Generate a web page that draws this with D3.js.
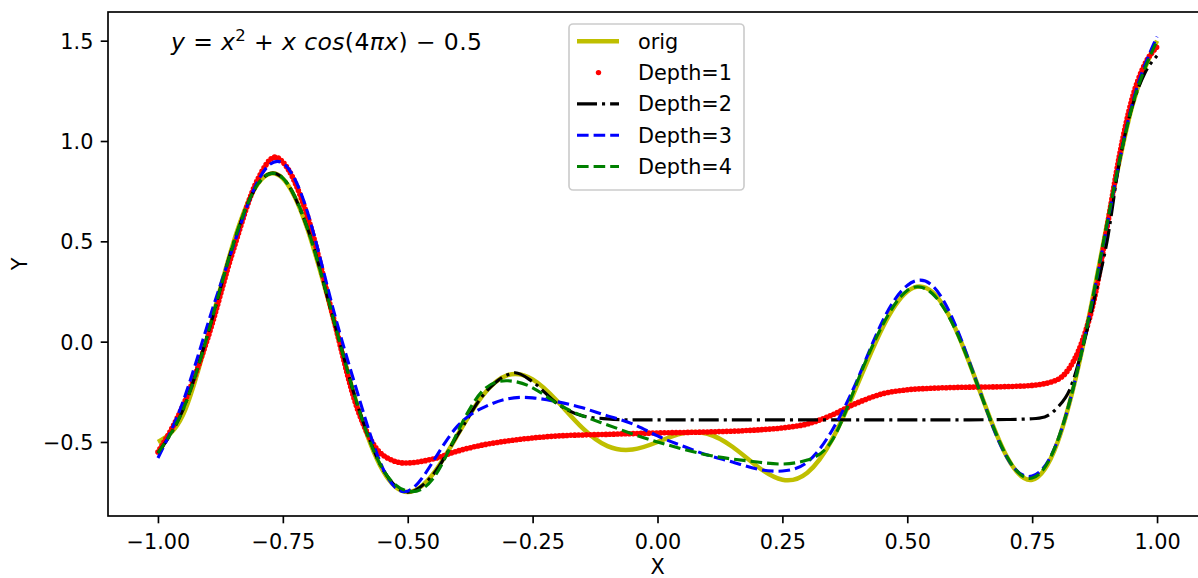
<!DOCTYPE html>
<html>
<head>
<meta charset="utf-8">
<script src="https://cdn.jsdelivr.net/npm/d3@7"></script>
<style>
  html, body { margin: 0; padding: 0; background: #fff; }
  svg { display: block; font-family: 'DejaVu Sans', sans-serif; }
  .legend-text, .title-text { white-space: pre; }
</style>
</head>
<body>
<div id="chart"></div>
<script>
// ── Data ────────────────────────────────────────────────────────
const X_GRID = [
  -1.00, -0.95, -0.90, -0.85, -0.80, -0.75, -0.70, -0.65, -0.60, -0.55,
  -0.50, -0.45, -0.40, -0.35, -0.30, -0.25, -0.20, -0.15, -0.10, -0.05,
   0.00,  0.05,  0.10,  0.15,  0.20,  0.25,  0.30,  0.35,  0.40,  0.45,
   0.50,  0.55,  0.60,  0.65,  0.70,  0.75,  0.80,  0.85,  0.90,  0.95, 1.00
];

const ORIG_Y = [
  -0.500, -0.366,  0.032,  0.485,  0.787,  0.813,  0.556,  0.123, -0.325, -0.642,
  -0.750, -0.662, -0.464, -0.269, -0.167, -0.188, -0.298, -0.431, -0.521, -0.538,
  -0.500, -0.457, -0.459, -0.524, -0.622, -0.688, -0.653, -0.486, -0.216,  0.067,
   0.250,  0.248,  0.045, -0.278, -0.576, -0.688, -0.507, -0.040,  0.588,  1.171, 1.500
];

const DEPTH3_Y = [
  -0.58, -0.30,  0.09,  0.47,  0.80,  0.89,  0.64,  0.17, -0.26, -0.63,
  -0.745, -0.60, -0.42, -0.33, -0.285, -0.28, -0.30, -0.33, -0.37, -0.41,
  -0.47, -0.52, -0.565, -0.60, -0.635, -0.645, -0.60, -0.44, -0.19,  0.10,
   0.28,  0.28,  0.06, -0.28, -0.58, -0.67, -0.50, -0.04,  0.58,  1.18, 1.52
];

const DEPTH4_Y = [
  -0.555, -0.34,  0.04,  0.48,  0.785,  0.815,  0.56,  0.125, -0.32, -0.635,
  -0.745, -0.685, -0.45, -0.245, -0.195, -0.23, -0.31, -0.37, -0.415, -0.46,
  -0.50, -0.535, -0.565, -0.585, -0.60, -0.61, -0.59, -0.49, -0.20,  0.08,
   0.255,  0.24,  0.04, -0.28, -0.575, -0.68, -0.50, -0.04,  0.59,  1.17, 1.50
];

const DEPTH1_X = [
  -1.00, -0.95, -0.90, -0.85, -0.80, -0.765, -0.75, -0.70, -0.65, -0.60,
  -0.55, -0.505, -0.45, -0.40, -0.35, -0.30, -0.25, -0.20, -0.10, 0.00,
   0.10,  0.20,  0.25,  0.30,  0.35,  0.40,  0.45,  0.50,  0.55,  0.60,
   0.70,  0.75,  0.80,  0.825, 0.85,  0.875, 0.90,  0.925, 0.95,  0.975, 1.00
];
const DEPTH1_Y = [
  -0.55, -0.32,  0.02,  0.45,  0.81,  0.92,  0.895, 0.62,  0.13, -0.34,
  -0.565, -0.605, -0.585, -0.545, -0.515, -0.495, -0.48, -0.47, -0.462, -0.455,
  -0.45, -0.44, -0.43, -0.41, -0.365, -0.305, -0.26, -0.24, -0.232, -0.228,
  -0.224, -0.218, -0.19, -0.13,  0.00,  0.22,  0.57,  0.93,  1.21,  1.38, 1.47
];

const DEPTH2_X = [
  -1.00, -0.95, -0.90, -0.85, -0.80, -0.77, -0.75, -0.70, -0.65, -0.60,
  -0.55, -0.50, -0.45, -0.40, -0.35, -0.30, -0.285, -0.25, -0.20, -0.15,
  -0.10, -0.05,  0.00,  0.20,  0.40,  0.60,  0.70,  0.75,  0.775, 0.80,
   0.825, 0.85,  0.875, 0.90,  0.925, 0.95,  0.975, 1.00
];
const DEPTH2_Y = [
  -0.555, -0.34,  0.04,  0.48,  0.785,  0.84,  0.815,  0.56,  0.125, -0.32,
  -0.635, -0.75, -0.665, -0.465, -0.27, -0.165, -0.155, -0.20, -0.31, -0.37,
  -0.385, -0.39, -0.39, -0.39, -0.39, -0.39, -0.388, -0.384, -0.375, -0.33,
  -0.24, -0.04,  0.22,  0.50,  0.90,  1.17,  1.335, 1.425
];

const X_TICKS = [-1.00, -0.75, -0.50, -0.25, 0.00, 0.25, 0.50, 0.75, 1.00];
const Y_TICKS = [-0.5, 0.0, 0.5, 1.0, 1.5];

const SERIES_LABELS = ['orig', 'Depth=1', 'Depth=2', 'Depth=3', 'Depth=4'];

// ── Layout ──────────────────────────────────────────────────────
const W = 1198, H = 578;
const AX = { left: 108, right: 1207, top: 12, bottom: 516 };
const FS = 20.8;        // 10pt @ 150dpi
const LW = 3.125;       // 1.5pt

const STYLES = {
  'orig':    { color: '#bfbf00', width: 4.5 },
  'Depth=1': { color: '#ff0000', width: 5.6, dash: '0 3.9', cap: 'round' },
  'Depth=2': { color: '#000000', width: LW, dash: '20 5 3.1 5' },
  'Depth=3': { color: '#0000ff', width: LW, dash: '11.6 5' },
  'Depth=4': { color: '#008000', width: LW, dash: '11.6 5' },
};

const svg = d3.select('#chart').append('svg')
  .attr('width', W)
  .attr('height', H);

svg.append('rect').attr('width', W).attr('height', H).attr('fill', '#fff');

const x = d3.scaleLinear().domain([-1.1, 1.1]).range([AX.left, AX.right]);
const y = d3.scaleLinear().domain([-0.869, 1.643]).range([AX.bottom, AX.top]);

svg.append('clipPath').attr('id', 'axclip')
  .append('rect')
  .attr('x', AX.left).attr('y', AX.top)
  .attr('width', AX.right - AX.left).attr('height', AX.bottom - AX.top);

// ── Curves ──────────────────────────────────────────────────────
const zip = (xs, ys) => xs.map((v, i) => [v, ys[i]]);

const series = [
  { name: 'orig',    pts: zip(X_GRID, ORIG_Y),     curve: d3.curveNatural },
  { name: 'Depth=1', pts: zip(DEPTH1_X, DEPTH1_Y), curve: d3.curveMonotoneX },
  { name: 'Depth=2', pts: zip(DEPTH2_X, DEPTH2_Y), curve: d3.curveMonotoneX },
  { name: 'Depth=3', pts: zip(X_GRID, DEPTH3_Y),   curve: d3.curveNatural },
  { name: 'Depth=4', pts: zip(X_GRID, DEPTH4_Y),   curve: d3.curveNatural },
];

const plotG = svg.append('g').attr('clip-path', 'url(#axclip)');

series.forEach(s => {
  const st = STYLES[s.name];
  const line = d3.line().x(d => x(d[0])).y(d => y(d[1])).curve(s.curve);
  plotG.append('path')
    .datum(s.pts)
    .attr('d', line)
    .attr('fill', 'none')
    .attr('stroke', st.color)
    .attr('stroke-width', st.width)
    .attr('stroke-dasharray', st.dash || null)
    .attr('stroke-linecap', st.cap || 'butt')
    .attr('stroke-linejoin', 'round');
});

// ── Axes ────────────────────────────────────────────────────────
const xAxis = svg.append('g')
  .attr('transform', `translate(0,${AX.bottom})`)
  .call(d3.axisBottom(x).tickValues(X_TICKS).tickFormat(d3.format('.2f'))
    .tickSize(7.3).tickPadding(10.5));

const yAxis = svg.append('g')
  .attr('transform', `translate(${AX.left},0)`)
  .call(d3.axisLeft(y).tickValues(Y_TICKS).tickFormat(d3.format('.1f'))
    .tickSize(7.3).tickPadding(7.3));

[xAxis, yAxis].forEach(g => {
  g.select('.domain').remove();
  g.selectAll('line').attr('stroke', '#000').attr('stroke-width', 1.67);
  g.selectAll('text')
    .attr('fill', '#000')
    .attr('font-size', FS)
    .attr('font-family', 'DejaVu Sans, sans-serif');
});
yAxis.selectAll('text').attr('dy', '0.36em');

// spines
svg.append('rect')
  .attr('x', AX.left).attr('y', AX.top)
  .attr('width', AX.right - AX.left).attr('height', AX.bottom - AX.top)
  .attr('fill', 'none')
  .attr('stroke', '#000')
  .attr('stroke-width', 1.67);

// axis labels
svg.append('text')
  .attr('x', x(0)).attr('y', 574)
  .attr('text-anchor', 'middle')
  .attr('font-size', FS)
  .text('X');

svg.append('text')
  .attr('transform', `translate(27,${(AX.top + AX.bottom) / 2}) rotate(-90)`)
  .attr('text-anchor', 'middle')
  .attr('font-size', FS)
  .text('Y');

// ── Formula annotation ──────────────────────────────────────────
const TITLE_PARTS = [
  { t: 'y', it: true }, { t: ' = ' }, { t: 'x', it: true }, { t: '2', sup: true },
  { t: ' + ' }, { t: 'x cos', it: true }, { t: '(4' }, { t: 'πx', it: true },
  { t: ') − 0.5' },
];

const title = svg.append('text')
  .attr('class', 'title-text')
  .attr('x', 171).attr('y', 50)
  .attr('font-size', 23.5)
  .attr('textLength', 311)
  .attr('lengthAdjust', 'spacing');

TITLE_PARTS.forEach((p, i) => {
  const prevSup = i > 0 && TITLE_PARTS[i - 1].sup;
  title.append('tspan')
    .attr('font-style', p.it ? 'italic' : null)
    .attr('font-size', p.sup ? 16.5 : null)
    .attr('dy', p.sup ? -9.5 : (prevSup ? 9.5 : null))
    .text(p.t);
});

// ── Legend ──────────────────────────────────────────────────────
const LEG = { x: 569, y: 24, w: 175, h: 166, rowH: 31.3, firstRow: 41.3 };
const legG = svg.append('g');

legG.append('rect')
  .attr('x', LEG.x).attr('y', LEG.y)
  .attr('width', LEG.w).attr('height', LEG.h)
  .attr('rx', 4)
  .attr('fill', '#fff').attr('fill-opacity', 0.8)
  .attr('stroke', '#cccccc').attr('stroke-width', 1.67);

SERIES_LABELS.forEach((name, i) => {
  const st = STYLES[name];
  const cy = LEG.firstRow + i * LEG.rowH;
  if (name === 'Depth=1') {
    legG.append('circle')
      .attr('cx', 598.5).attr('cy', cy)
      .attr('r', 2.7)
      .attr('fill', st.color);
  } else {
    legG.append('line')
      .attr('x1', 577).attr('x2', 619)
      .attr('y1', cy).attr('y2', cy)
      .attr('stroke', st.color)
      .attr('stroke-width', st.width)
      .attr('stroke-dasharray', st.dash || null);
  }
  legG.append('text')
    .attr('class', 'legend-text')
    .attr('x', 638).attr('y', cy + 7.5)
    .attr('font-size', FS)
    .text(name);
});
</script>
</body>
</html>
